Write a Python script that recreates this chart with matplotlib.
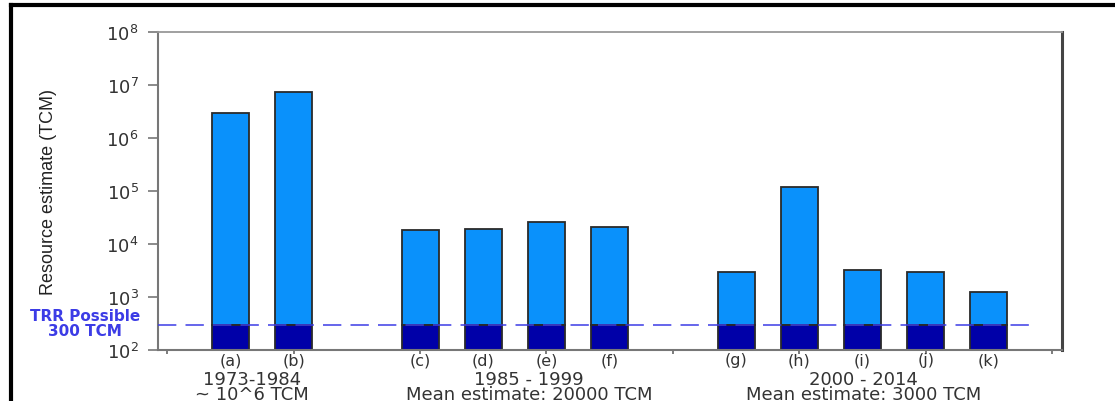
import matplotlib
matplotlib.use("Agg")
import matplotlib.pyplot as plt
from matplotlib.lines import Line2D
from matplotlib.ticker import FixedLocator

# Resource estimates (TCM) per study, grouped by period
labels = ["(a)", "(b)", "(c)", "(d)", "(e)", "(f)", "(g)", "(h)", "(i)", "(j)", "(k)"]
positions = [1, 2, 4, 5, 6, 7, 9, 10, 11, 12, 13]
estimates = [3.0e6, 7.4e6, 1.85e4, 1.95e4, 2.65e4, 2.1e4, 2.95e3, 1.2e5, 3.25e3, 2.95e3, 1.22e3]
trr_possible = 300

group_titles = ["1973-1984", "1985 - 1999", "2000 - 2014"]
group_notes = ["~ 10^6 TCM", "Mean estimate: 20000 TCM", "Mean estimate: 3000 TCM"]
group_centers = [1.34, 5.72, 11.02]

light_blue = "#0a91fb"
dark_blue = "#0000a8"
trr_color = "#3c3ce6"
text_gray = "#333333"

plt.rcParams["font.family"] = ["DejaVu Sans"]

W, H = 1115, 402
fig = plt.figure(figsize=(W / 100, H / 100), dpi=100)
ax = fig.add_axes([158 / W, 1 - 351 / H, (1062 - 158) / W, (351 - 33) / H])

ymin = 1e2
width = 0.585
# upper (light) part of each bar, above the TRR level
ax.bar(positions, [v - trr_possible for v in estimates], width=width, bottom=trr_possible,
       color=light_blue, edgecolor="#2a2a2a", linewidth=1.3, zorder=2)
# lower (dark) part, up to the TRR level
ax.bar(positions, [trr_possible - ymin] * len(positions), width=width, bottom=ymin,
       color=dark_blue, edgecolor="#2a2a2a", linewidth=1.3, zorder=2)

ax.set_yscale("log")
ax.set_ylim(ymin, 1e8)
ax.set_xlim(-0.147, 14.157)

# TRR dashed reference line
ax.add_line(Line2D([-0.147, 13.68], [trr_possible, trr_possible], color=trr_color,
                   linewidth=1.1, dashes=(12, 6), zorder=3))

ax.yaxis.set_major_locator(FixedLocator([1e2, 1e3, 1e4, 1e5, 1e6, 1e7, 1e8]))
ax.yaxis.set_minor_locator(FixedLocator([]))
ax.set_yticklabels([r"10$^{%d}$" % e for e in range(2, 9)], fontsize=13, color=text_gray)
ax.tick_params(axis="y", direction="out", length=7, width=1.2, color="#777777", pad=7)

ax.set_xticks([0, 2, 4, 6, 8, 10, 12, 14])
ax.set_xticklabels([])
ax.tick_params(axis="x", direction="out", length=3, width=1.2, color="#666666")

for side, col, lw in [("left", "#777777", 1.5), ("bottom", "#777777", 1.5),
                      ("top", "#999999", 1.3), ("right", "#444444", 2.2)]:
    ax.spines[side].set_color(col)
    ax.spines[side].set_linewidth(lw)

ax.set_ylabel("Resource estimate (TCM)", fontsize=13, color="#222222",
              family="Liberation Sans")
ax.yaxis.set_label_coords((57 - 158) / (1062 - 158), 0.5)


def fig_x(xdata):
    return ax.transData.transform((xdata, 1))[0] / fig.dpi / fig.get_figwidth()


def fig_y(py):
    return 1 - py / H


# bar labels under the axis
for x, lab in zip(positions, labels):
    fig.text(fig_x(x), fig_y(360.5), lab, ha="center", va="center", fontsize=11.5,
             color=text_gray)

# period titles and summary notes
for xc, title, note in zip(group_centers, group_titles, group_notes):
    fig.text(fig_x(xc), fig_y(387.5), title + "\n" + note, ha="center", va="center",
             fontsize=13, color=text_gray, linespacing=0.8, multialignment="center")

# TRR annotation left of the axis
fig.text(85 / W, fig_y(324), "TRR Possible\n300 TCM", ha="center", va="center",
         fontsize=11, color=trr_color, fontweight="bold", linespacing=0.95)

# outer frame (top and left edges)
fig.add_artist(Line2D([11 / W, 1.0], [fig_y(6), fig_y(6)], color="black",
                      linewidth=3, transform=fig.transFigure))
fig.add_artist(Line2D([11 / W, 11 / W], [fig_y(6), 0.0], color="black",
                      linewidth=3, transform=fig.transFigure))

fig.savefig("out.png", dpi=100)
